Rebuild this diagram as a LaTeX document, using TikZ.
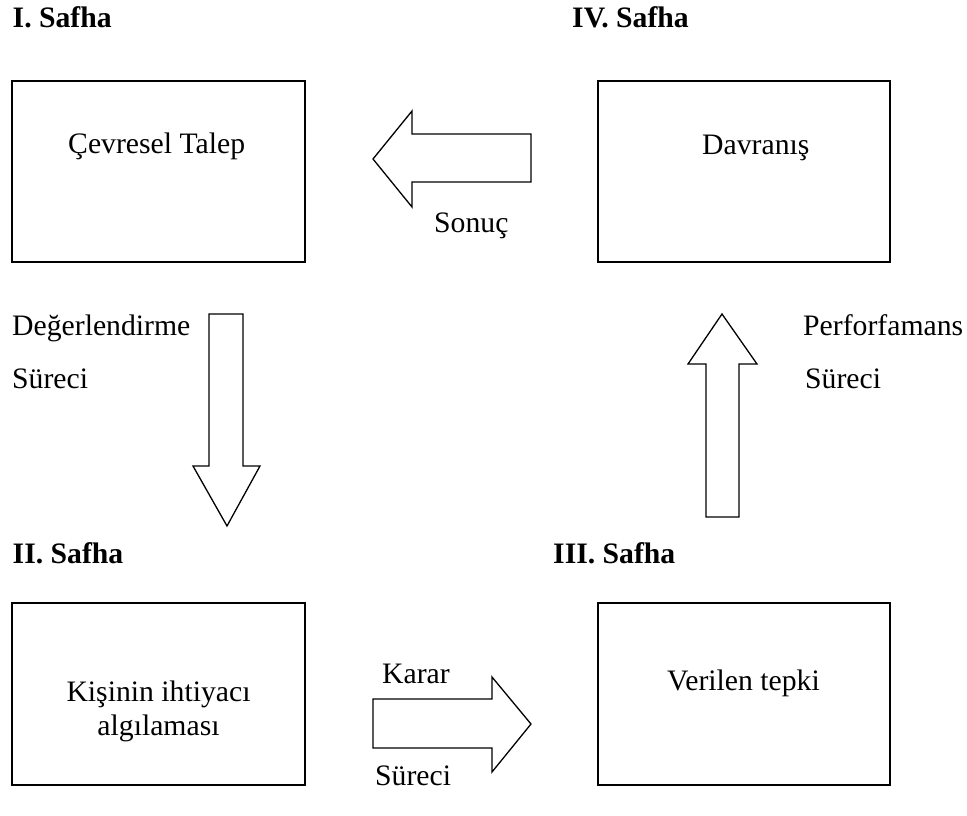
\documentclass[tikz,border=0pt]{standalone}
\usepackage{fontspec}
\setmainfont{Liberation Serif}
\begin{document}
\begin{tikzpicture}[x=1pt,y=-1pt,
  box/.style={draw,line width=1.4pt,line join=miter},
  blockarrow/.style={draw,line width=1.3pt,line join=miter},
  txt/.style={anchor=base west,inner sep=0pt,font=\fontsize{29.7}{34}\selectfont},
  head/.style={txt,font=\fontsize{29.7}{34}\selectfont\bfseries}]
\useasboundingbox (0,0) rectangle (967,815);
% boxes
\draw[box] (12,81) rectangle (305,262);
\draw[box] (598,81) rectangle (890,262);
\draw[box] (12,603) rectangle (305,785);
\draw[box] (598,603) rectangle (890,785);
% headings
\node[head] (h1) at (12.5,27) {I. Safha};
\node[head] (h4) at (572,27) {IV. Safha};
\node[head] (h2) at (12.5,563) {II. Safha};
\node[head] (h3) at (553,563) {III. Safha};
% box texts
\node[txt] (t1) at (68,153) {Çevresel Talep};
\node[txt] (t4) at (702,154) {Davranış};
\node[txt,align=center,anchor=north,inner sep=0pt] (t2) at (158.5,681) {Kişinin ihtiyacı\\algılaması};
\node[txt] (t3) at (667,690) {Verilen tepki};
% arrows
\draw[blockarrow] (531,134) -- (412,134) -- (412,111) -- (373,159) -- (412,207) -- (412,182) -- (531,182) -- cycle;
\draw[blockarrow] (209,314) -- (243,314) -- (243,466) -- (260,466) -- (227,526) -- (193,466) -- (209,466) -- cycle;
\draw[blockarrow] (706,517) -- (706,364) -- (688,364) -- (722,314) -- (757,364) -- (739,364) -- (739,517) -- cycle;
\draw[blockarrow] (373,699) -- (492,699) -- (492,677) -- (531,724) -- (492,772) -- (492,748) -- (373,748) -- cycle;
% arrow labels
\node[txt] (l1) at (434,232) {Sonuç};
\node[txt] (l2a) at (12,335) {Değerlendirme};
\node[txt] (l2b) at (12,388) {Süreci};
\node[txt] (l4a) at (803,335) {Perforfamans};
\node[txt] (l4b) at (805,388) {Süreci};
\node[txt] (l3a) at (382,683) {Karar};
\node[txt] (l3b) at (375,785) {Süreci};
\end{tikzpicture}
\end{document}
